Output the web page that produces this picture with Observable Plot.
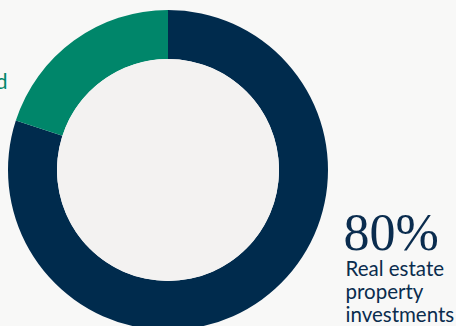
<!DOCTYPE html>
<html>
<head>
<meta charset="utf-8">
<script src="https://cdn.jsdelivr.net/npm/d3@7"></script>
<script src="https://cdn.jsdelivr.net/npm/@observablehq/plot@0.6"></script>
<style>
  html, body { margin: 0; padding: 0; background: #f8f8f7; }
  #chart svg { display: block; }
</style>
</head>
<body>
<div id="chart"></div>
<script>
const categories = ["Real estate property investments", "Other"];
const shares = [80, 20];
const colors = ["#002b4d", "#00866a"];
const bigLabel = "80%";
const mainLabel = "Real estate\nproperty\ninvestments";
const sideLabel = "Land";

const data = categories.map((c, i) => ({category: c, value: shares[i], color: colors[i]}));

function donut(index, scales, values, dims) {
  const cx = 168, cy = 170, rOuter = 160, rInner = 111;
  const g = d3.create("svg:g").attr("transform", `translate(${cx},${cy})`);
  const pie = d3.pie().sort(null).value(d => d.value)(data);
  const arc = d3.arc().innerRadius(rInner).outerRadius(rOuter);
  g.selectAll("path.slice").data(pie).join("path")
    .attr("d", arc)
    .attr("fill", d => d.data.color);
  g.append("circle").attr("r", rInner).attr("fill", "#f3f2f1");
  return g.node();
}

const chart = Plot.plot({
  width: 456,
  height: 326,
  margin: 0,
  style: {background: "#f8f8f7", overflow: "hidden"},
  x: {axis: null},
  y: {axis: null},
  marks: [
    donut,
    Plot.text([bigLabel], {
      frameAnchor: "top-left", dx: 343, dy: 249,
      textAnchor: "start", lineAnchor: "bottom",
      fontFamily: "Liberation Serif", fontSize: 52, fill: "#0a2c4e"
    }),
    Plot.text([mainLabel], {
      frameAnchor: "top-left", dx: 345, dy: 321,
      textAnchor: "start", lineAnchor: "bottom", lineHeight: 1.1,
      fontFamily: "Lato", fontSize: 20.5, fill: "#0a2c4e"
    }),
    Plot.text([sideLabel], {
      frameAnchor: "top-left", dx: 7, dy: 88,
      textAnchor: "end", lineAnchor: "bottom",
      fontFamily: "Lato", fontSize: 21, fill: "#00866a"
    })
  ]
});
document.getElementById("chart").appendChild(chart);
</script>
</body>
</html>
